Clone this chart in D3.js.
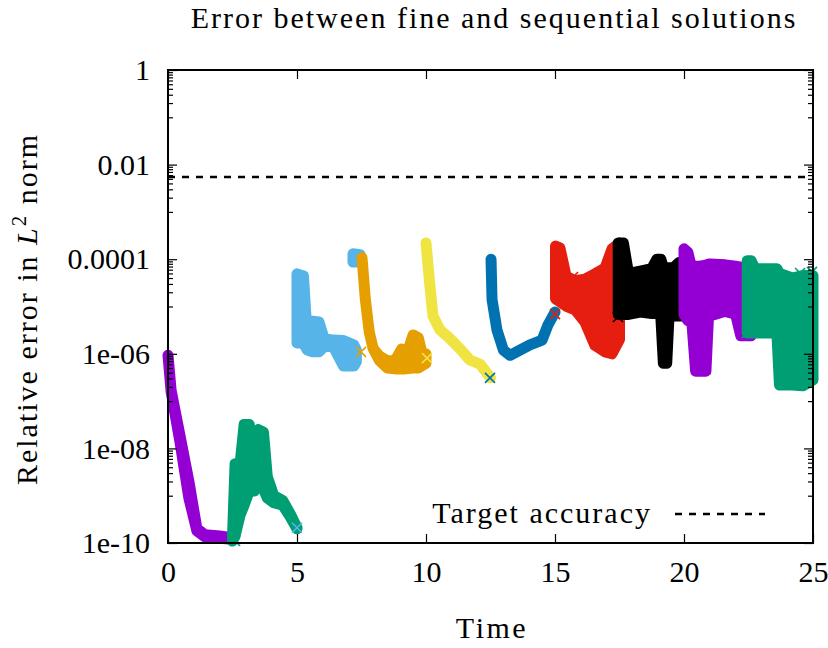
<!DOCTYPE html>
<html>
<head>
<meta charset="utf-8">
<script src="https://cdn.jsdelivr.net/npm/d3@7"></script>
<style>
  body { margin: 0; background: #fff; }
  text { font-family: "Liberation Serif", "Times New Roman", serif; fill: #000; }
</style>
</head>
<body>
<div class="canvas"></div>
<script>
// tick labels
const xTicks = [0, 5, 10, 15, 20, 25];
const yTicks = [1e-10, 1e-8, 1e-6, 1e-4, 1e-2, 1];
const yTickLabels = ['1e-10', '1e-08', '1e-06', '0.0001', '0.01', '1'];

const targetAccuracy = 0.0055;

// each run: time, upper and lower edge of the point cloud
const purple1T  = [0, 0.12, 0.47, 0.81, 1.12, 1.43, 2.0, 2.5];
const purple1Hi = [9.3e-7, 1.7e-7, 1.8e-8, 2.0e-9, 2.0e-10, 1.5e-10, 1.4e-10, 1.3e-10];
const purple1Lo = [9.3e-7, 1.6e-7, 1.3e-8, 8.9e-10, 1.8e-10, 1.35e-10, 1.26e-10, 1.2e-10];

const green1T  = [2.5, 2.6, 2.8, 2.95, 3.15, 3.35, 3.5, 3.7, 3.85, 4.1, 4.45, 4.75, 5.0];
const green1Hi = [1.4e-10, 4.7e-9, 5.0e-9, 3.2e-8, 3.2e-8, 1.6e-9, 2.5e-8, 2.2e-8, 2.5e-9, 1.0e-9, 7.9e-10, 4.0e-10, 2.1e-10];
const green1Lo = [1.1e-10, 1.4e-10, 4.0e-10, 6.3e-10, 1.26e-9, 1.26e-9, 1.8e-9, 1.4e-9, 8.9e-10, 7.1e-10, 6.3e-10, 3.5e-10, 2.0e-10];

const blue1T  = [5.0, 5.25, 5.4, 5.6, 5.85, 6.05, 6.4, 6.8, 7.2, 7.3];
const blue1Hi = [4.9e-5, 4.4e-5, 2.1e-6, 4.9e-6, 4.7e-6, 2.1e-6, 1.95e-6, 1.9e-6, 1.55e-6, 1.2e-6];
const blue1Lo = [1.7e-6, 1.7e-6, 1.2e-6, 1.1e-6, 1.1e-6, 1.4e-6, 1.45e-6, 5.5e-7, 5.5e-7, 6.8e-7];

const blue1bT  = [7.17, 7.44];
const blue1bHi = [1.3e-4, 1.25e-4];
const blue1bLo = [8.7e-5, 8.7e-5];

const orangeT  = [7.52, 7.65, 7.8, 7.95, 8.2, 8.5, 8.8, 9.05, 9.2, 9.5, 9.7, 9.85, 10.0];
const orangeHi = [1.07e-4, 1.4e-5, 2.9e-6, 1.3e-6, 8.9e-7, 7.1e-7, 7.1e-7, 1.26e-6, 7.9e-7, 2.5e-6, 2.2e-6, 1.0e-6, 1.0e-6];
const orangeLo = [1.07e-4, 1.4e-5, 2.9e-6, 1.3e-6, 7.1e-7, 5.0e-7, 4.8e-7, 4.8e-7, 4.8e-7, 5.0e-7, 5.0e-7, 5.6e-7, 6.3e-7];

const yellowT  = [10.0, 10.13, 10.27, 10.54, 10.85, 11.3, 11.7, 12.1, 12.5];
const yellowHi = [2.2e-4, 3.6e-5, 6.3e-6, 3.2e-6, 2.3e-6, 1.3e-6, 7.4e-7, 6.0e-7, 3.1e-7];
const yellowLo = [2.2e-4, 3.6e-5, 6.3e-6, 3.2e-6, 2.3e-6, 1.3e-6, 7.4e-7, 6.0e-7, 3.1e-7];

const blue2T  = [12.52, 12.56, 12.75, 13.0, 13.26, 13.64, 14.03, 14.5, 14.73, 15.0];
const blue2Hi = [1.0e-4, 1.4e-5, 3.2e-6, 1.2e-6, 9.3e-7, 1.2e-6, 1.55e-6, 1.95e-6, 4.1e-6, 7.6e-6];
const blue2Lo = [1.0e-4, 1.4e-5, 3.2e-6, 1.2e-6, 9.3e-7, 1.2e-6, 1.55e-6, 1.95e-6, 4.1e-6, 7.6e-6];

const redT  = [15.02, 15.19, 15.43, 15.78, 16.16, 16.55, 16.94, 17.21, 17.5];
const redHi = [1.9e-4, 1.74e-4, 4.4e-5, 3.5e-5, 3.8e-5, 4.9e-5, 6.5e-5, 1.66e-4, 2.2e-4];
const redLo = [1.45e-5, 1.26e-5, 1.02e-5, 8.5e-6, 4.7e-6, 1.5e-6, 1.1e-6, 1.0e-6, 2.0e-6];

const blackT  = [17.45, 17.65, 17.85, 18.3, 18.75, 18.95, 19.1, 19.2, 19.33, 19.42, 19.6, 19.8, 20.0];
const blackHi = [2.2e-4, 2.2e-4, 5.0e-5, 5.6e-5, 6.3e-5, 1.0e-4, 1.0e-4, 6.6e-5, 6.6e-5, 6.6e-5, 6.6e-5, 8.5e-5, 8.5e-5];
const blackLo = [6.8e-6, 6.8e-6, 6.8e-6, 7.6e-6, 7.1e-6, 7.1e-6, 6.3e-6, 6.3e-7, 6.3e-7, 6.3e-6, 6.3e-6, 6.3e-6, 6.3e-6];

const purple2T  = [20.0, 20.15, 20.3, 20.45, 20.6, 20.85, 20.95, 21.0, 21.6, 22.0, 22.2, 22.6];
const purple2Hi = [1.66e-4, 1.4e-4, 6.3e-5, 7.1e-5, 7.1e-5, 7.5e-5, 7.9e-5, 7.9e-5, 7.6e-5, 7.1e-5, 6.8e-5, 6.3e-5];
const purple2Lo = [6.8e-6, 5.0e-6, 5.0e-6, 4.3e-7, 4.3e-7, 4.3e-7, 6.3e-6, 6.3e-6, 7.9e-6, 6.9e-6, 2.4e-6, 2.4e-6];

const green2T  = [22.45, 22.6, 22.75, 23.3, 23.6, 23.7, 24.2, 24.6, 25.0];
const green2Hi = [9.3e-5, 9.3e-5, 6.3e-5, 6.3e-5, 6.3e-5, 5.0e-5, 4.0e-5, 4.5e-5, 4.5e-5];
const green2Lo = [2.75e-6, 2.75e-6, 2.75e-6, 2.75e-6, 2.75e-6, 2.2e-7, 2.2e-7, 2.1e-7, 2.8e-7];

// single "x" points
const markT     = [2.6, 5.0, 7.48, 10.04, 12.48, 15.0, 15.7, 17.44, 22.44, 24.22, 24.5, 24.96];
const markE     = [1.1e-10, 2.1e-10, 1.1e-6, 8.1e-7, 3.1e-7, 6.9e-6, 4.2e-5, 6.0e-6, 2.75e-6, 3.3e-5, 5.1e-5, 5.4e-5];
const markColor = ['#009e73', '#56b4e9', '#e69f00', '#f0e442', '#0072b2', '#e51e10', '#e51e10', '#000000', '#009e73', '#009e73', '#009e73', '#009e73'];

const runs = [
    { t: purple1T, hi: purple1Hi, lo: purple1Lo, color: '#9400d3' },
    { t: green1T, hi: green1Hi, lo: green1Lo, color: '#009e73' },
    { t: blue1T, hi: blue1Hi, lo: blue1Lo, color: '#56b4e9' },
    { t: blue1bT, hi: blue1bHi, lo: blue1bLo, color: '#56b4e9' },
    { t: orangeT, hi: orangeHi, lo: orangeLo, color: '#e69f00' },
    { t: yellowT, hi: yellowHi, lo: yellowLo, color: '#f0e442' },
    { t: blue2T, hi: blue2Hi, lo: blue2Lo, color: '#0072b2' },
    { t: redT, hi: redHi, lo: redLo, color: '#e51e10' },
    { t: blackT, hi: blackHi, lo: blackLo, color: '#000000' },
    { t: purple2T, hi: purple2Hi, lo: purple2Lo, color: '#9400d3' },
    { t: green2T, hi: green2Hi, lo: green2Lo, color: '#009e73' }
];

const width = 828, height = 648;
const margin = { top: 70, right: 15, bottom: 105, left: 168 };
const graphWidth = width - margin.left - margin.right;
const graphHeight = height - margin.top - margin.bottom;

const svg = d3.select('.canvas')
    .append('svg')
    .attr('width', width)
    .attr('height', height);

const graph = svg.append('g')
    .attr('transform', `translate(${margin.left}, ${margin.top})`);

const x = d3.scaleLinear().domain([0, 25]).range([0, graphWidth]);
const y = d3.scaleLog().domain([1e-10, 1]).range([graphHeight, 0]);

// point clouds as filled bands
const area = d3.area()
    .x(d => x(d.t))
    .y0(d => y(d.lo))
    .y1(d => y(d.hi));

runs.forEach(r => {
    const pts = r.t.map((t, i) => ({ t: t, hi: r.hi[i], lo: r.lo[i] }));
    graph.append('path')
        .datum(pts)
        .attr('d', area)
        .attr('fill', r.color)
        .attr('stroke', r.color)
        .attr('stroke-width', 11)
        .attr('stroke-linejoin', 'round');
});

graph.selectAll('.mark')
    .data(markT)
    .enter()
    .append('path')
    .attr('class', 'mark')
    .attr('transform', (d, i) => `translate(${x(d)}, ${y(markE[i])})`)
    .attr('d', 'M-5,-5L5,5M-5,5L5,-5')
    .attr('stroke', (d, i) => markColor[i])
    .attr('stroke-width', 1.6)
    .attr('fill', 'none');

// target accuracy
graph.append('line')
    .attr('x1', x(0)).attr('x2', x(25))
    .attr('y1', y(targetAccuracy)).attr('y2', y(targetAccuracy))
    .attr('stroke', '#000')
    .attr('stroke-width', 2.5)
    .attr('stroke-dasharray', '7,7');

// axes, ticks pointing inwards on all four sides
const xAxis = d3.axisBottom(x).tickValues(xTicks).tickSize(-9).tickPadding(18).tickFormat(d3.format('d'));
const xAxisTop = d3.axisTop(x).tickValues(xTicks).tickSize(-9).tickFormat('');
const yAxis = d3.axisLeft(y).tickValues(yTicks).tickSize(-9).tickPadding(18)
    .tickFormat((d, i) => yTickLabels[i]);
const yAxisRight = d3.axisRight(y).tickValues(yTicks).tickSize(-9).tickFormat('');

const yMinor = [];
[-10, -8, -6, -4, -2].forEach(a => {
    for (let m = 1; m <= 9; m++) yMinor.push(m * Math.pow(10, a + 1));
});
const yMinorLeft = d3.axisLeft(y).tickValues(yMinor).tickSize(-5).tickFormat('');
const yMinorRight = d3.axisRight(y).tickValues(yMinor).tickSize(-5).tickFormat('');

graph.append('g').attr('transform', `translate(0, ${graphHeight})`).call(xAxis);
graph.append('g').call(xAxisTop);
graph.append('g').call(yAxis);
graph.append('g').attr('transform', `translate(${graphWidth}, 0)`).call(yAxisRight);
graph.append('g').call(yMinorLeft);
graph.append('g').attr('transform', `translate(${graphWidth}, 0)`).call(yMinorRight);

graph.selectAll('.domain').remove();
graph.selectAll('.tick line').attr('stroke', '#000').attr('stroke-width', 1.2);
graph.selectAll('.tick text')
    .style('font-family', '"Liberation Serif", serif')
    .style('font-size', '30px');

graph.append('rect')
    .attr('width', graphWidth)
    .attr('height', graphHeight)
    .attr('fill', 'none')
    .attr('stroke', '#000')
    .attr('stroke-width', 2);

// legend
graph.append('text')
    .attr('x', 652 - margin.left)
    .attr('y', 523 - margin.top)
    .attr('text-anchor', 'end')
    .style('font-size', '30px')
    .style('letter-spacing', '2px')
    .text('Target accuracy');
graph.append('line')
    .attr('x1', 675 - margin.left).attr('x2', 765 - margin.left)
    .attr('y1', 514 - margin.top).attr('y2', 514 - margin.top)
    .attr('stroke', '#000')
    .attr('stroke-width', 2.5)
    .attr('stroke-dasharray', '7,7');

// titles
svg.append('text')
    .attr('x', 494)
    .attr('y', 28)
    .attr('text-anchor', 'middle')
    .style('font-size', '30px')
    .style('letter-spacing', '2px')
    .text('Error between fine and sequential solutions');

svg.append('text')
    .attr('x', 492)
    .attr('y', 638)
    .attr('text-anchor', 'middle')
    .style('font-size', '30px')
    .style('letter-spacing', '2.5px')
    .text('Time');

const yLabel = svg.append('text')
    .attr('transform', 'translate(37, 309) rotate(-90)')
    .attr('text-anchor', 'middle')
    .style('font-size', '30px')
    .style('letter-spacing', '2px');
yLabel.append('tspan').text('Relative error in ');
yLabel.append('tspan').style('font-style', 'italic').text('L');
yLabel.append('tspan').attr('dy', -11).style('font-size', '21px').text('2');
yLabel.append('tspan').attr('dy', 11).text(' norm');
</script>
</body>
</html>
